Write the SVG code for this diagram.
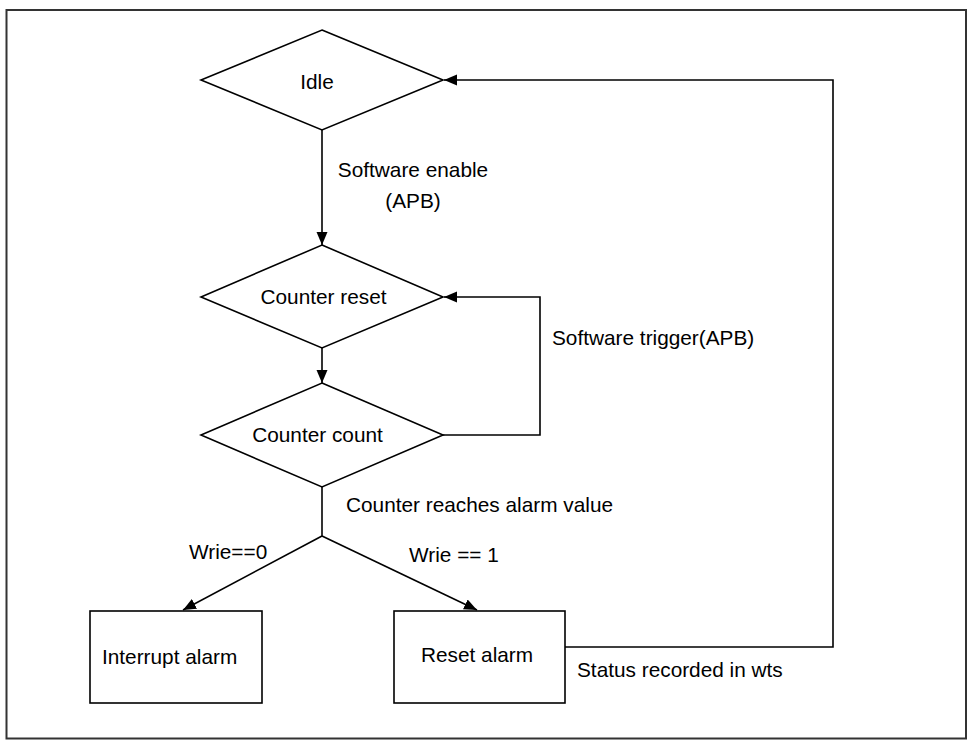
<svg xmlns="http://www.w3.org/2000/svg" width="975" height="748" viewBox="0 0 975 748">
<defs>
<style>
.shape{fill:#fff;stroke:#000;stroke-width:1.6}
.conn{fill:none;stroke:#000;stroke-width:1.6}
.t{font-family:"Liberation Sans",Arial,sans-serif;font-size:20.8px;fill:#000}
.c{text-anchor:middle}
</style>
<marker id="ah" markerUnits="userSpaceOnUse" markerWidth="14" markerHeight="12" refX="13" refY="5.5" orient="auto">
<path d="M0,0 L13,5.5 L0,11 z" fill="#000"/>
</marker>
</defs>
<rect x="0" y="0" width="975" height="748" fill="#fff"/>
<rect x="6.5" y="10" width="959.5" height="728.5" fill="none" stroke="#333" stroke-width="2"/>
<g id="connectors">
<line class="conn" x1="322" y1="130" x2="322" y2="245" marker-end="url(#ah)"/>
<line class="conn" x1="322" y1="348" x2="322" y2="383" marker-end="url(#ah)"/>
<polyline class="conn" points="443,435 540,435 540,297 444,297" marker-end="url(#ah)"/>
<polyline class="conn" points="322,487 322,536"/>
<line class="conn" x1="322" y1="536" x2="183" y2="610" marker-end="url(#ah)"/>
<line class="conn" x1="322" y1="536" x2="477" y2="610" marker-end="url(#ah)"/>
<polyline class="conn" points="565,647 833,647 833,80 444,80" marker-end="url(#ah)"/>
<text class="t c" x="413" y="177">Software enable</text>
<text class="t c" x="413" y="208">(APB)</text>
<text class="t" x="552" y="345">Software trigger(APB)</text>
<text class="t" x="346" y="512">Counter reaches alarm value</text>
<text class="t" x="189" y="559">Wrie==0</text>
<text class="t" x="409" y="562">Wrie == 1</text>
<text class="t" x="577" y="677">Status recorded in wts</text>
</g>
<g id="idle">
<polygon class="shape" points="322,30 443,80 322,130 201,80"/>
<text class="t c" x="317" y="89">Idle</text>
</g>
<g id="counter-reset">
<polygon class="shape" points="322,245 443,297 322,348 201,297"/>
<text class="t c" x="323.5" y="304">Counter reset</text>
</g>
<g id="counter-count">
<polygon class="shape" points="322,383 443,435 322,487 201,435"/>
<text class="t c" x="317.5" y="442">Counter count</text>
</g>
<g id="interrupt-alarm">
<rect class="shape" x="90" y="611" width="172" height="92"/>
<text class="t" x="102" y="664">Interrupt alarm</text>
</g>
<g id="reset-alarm">
<rect class="shape" x="394" y="611" width="171" height="92"/>
<text class="t" x="421" y="662">Reset alarm</text>
</g>
</svg>
